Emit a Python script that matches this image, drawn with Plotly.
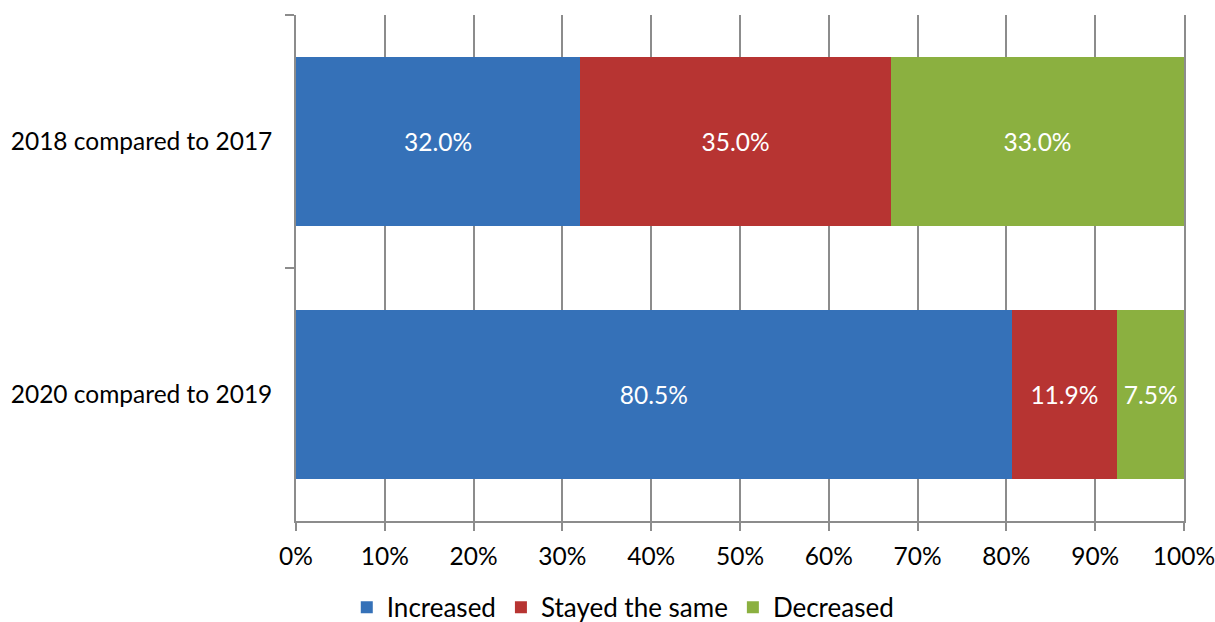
import plotly.graph_objects as go

# Survey responses: share of respondents per period comparison
periods = ["2018 compared to 2017", "2020 compared to 2019"]
increased = [32.0, 80.5]
stayed_same = [35.0, 11.9]
decreased = [33.0, 7.5]

x_ticks = [0, 10, 20, 30, 40, 50, 60, 70, 80, 90, 100]
x_tick_text = [f"{v}%" for v in x_ticks]

FONT = "Lato"
FS = 24.5

series = [
    ("Increased", increased, "#3571b8"),
    ("Stayed the same", stayed_same, "#b73432"),
    ("Decreased", decreased, "#8bb040"),
]

fig = go.Figure()
for name, vals, color in series:
    fig.add_trace(go.Bar(
        name=name,
        y=periods,
        x=vals,
        orientation="h",
        marker=dict(color=color, line=dict(width=0)),
        text=vals,
        texttemplate="%{text:.1f}%",
        textposition="inside",
        insidetextanchor="middle",
        textfont=dict(family=FONT, size=FS, color="white"),
        constraintext="none",
    ))

fig.update_layout(
    barmode="stack",
    barnorm="percent",
    bargap=0.33,
    width=1215,
    height=622,
    margin=dict(l=296, r=31, t=15, b=101, autoexpand=False),
    paper_bgcolor="white",
    plot_bgcolor="white",
    font=dict(family=FONT, size=FS, color="black"),
    legend=dict(
        orientation="h",
        x=0.368,
        xanchor="center",
        y=-0.124,
        yanchor="top",
        font=dict(family=FONT, size=26, color="black"),
        itemwidth=30,
        traceorder="normal",
    ),
    showlegend=True,
)

fig.update_xaxes(
    range=[0, 100],
    tickvals=x_ticks,
    ticktext=x_tick_text,
    showgrid=True,
    gridcolor="#8c8c8c",
    gridwidth=1.5,
    showline=True,
    linecolor="#8c8c8c",
    linewidth=1.5,
    ticks="outside",
    ticklen=8,
    tickcolor="#8c8c8c",
    tickwidth=1.5,
    ticklabelstandoff=5,
    zeroline=False,
    automargin=False,
    ticklabeloverflow="allow",
    fixedrange=True,
)

fig.update_yaxes(
    categoryorder="array",
    categoryarray=periods,
    autorange="reversed",
    showline=True,
    mirror=True,
    linecolor="#8c8c8c",
    linewidth=1.5,
    ticks="outside",
    tickson="boundaries",
    ticklen=9,
    tickcolor="#8c8c8c",
    tickwidth=1.5,
    ticklabelstandoff=17,
    showgrid=False,
    automargin=False,
    ticklabeloverflow="allow",
    fixedrange=True,
)

fig.write_html("out.html")
